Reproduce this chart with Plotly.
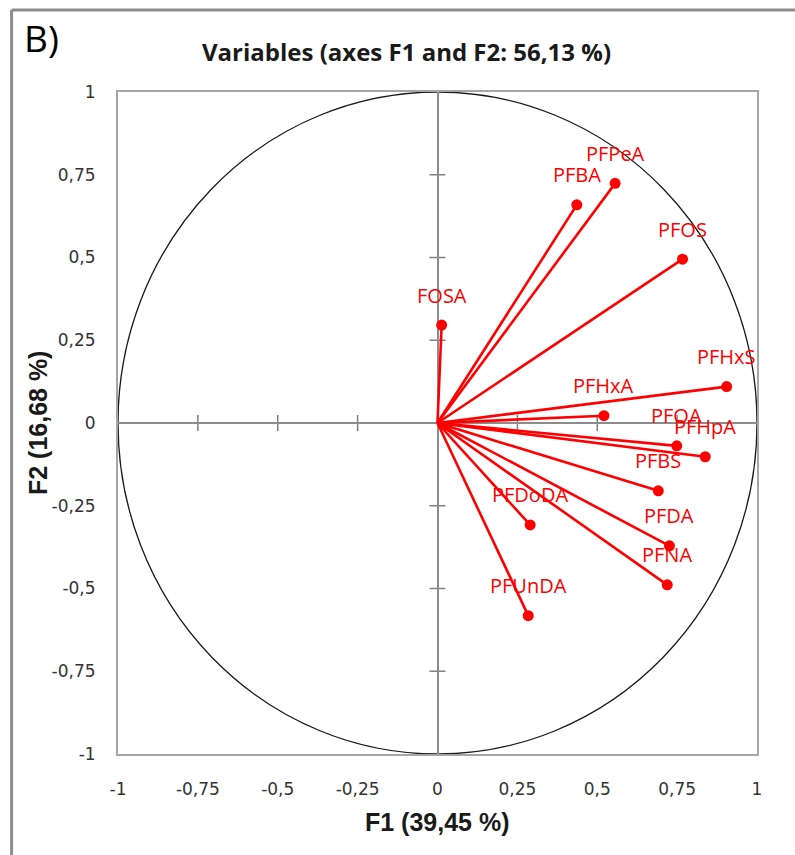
import plotly.graph_objects as go

# Correlation circle: loadings of each variable on F1 and F2
variables = ["PFBA", "PFPeA", "PFHxA", "PFHpA", "PFOA", "PFNA", "PFDA",
             "PFUnDA", "PFDoDA", "PFBS", "PFHxS", "PFOS", "FOSA"]
f1 = [0.436, 0.556, 0.521, 0.838, 0.749, 0.719, 0.726,
      0.284, 0.290, 0.691, 0.905, 0.767, 0.013]
f2 = [0.659, 0.724, 0.022, -0.102, -0.069, -0.489, -0.371,
      -0.582, -0.308, -0.205, 0.110, 0.495, 0.296]

tick_vals = [-1, -0.75, -0.5, -0.25, 0, 0.25, 0.5, 0.75, 1]
tick_text = ["-1", "-0,75", "-0,5", "-0,25", "0", "0,25", "0,5", "0,75", "1"]

title_text = "Variables (axes F1 and F2: 56,13 %)"
x_title = "F1 (39,45 %)"
y_title = "F2 (16,68 %)"
panel_tag = "B)"

W, H = 795, 855
L, R, T, B = 118, 37.5, 92, 101
pw, ph = W - L - R, H - T - B


def px_x(p):
    return (p - L) / pw


def px_y(p):
    return (H - B - p) / ph


RED = "#ff0000"

# vectors from origin
lx, ly = [], []
for a, b in zip(f1, f2):
    lx += [0, a, None]
    ly += [0, b, None]

fig = go.Figure()
fig.add_trace(go.Scatter(x=lx, y=ly, mode="lines",
                         line=dict(color=RED, width=2.6),
                         hoverinfo="skip", showlegend=False))
fig.add_trace(go.Scatter(x=f1, y=f2, mode="markers",
                         marker=dict(color=RED, size=11),
                         text=variables, showlegend=False))

# variable labels above each point
for name, a, b in zip(variables, f1, f2):
    fig.add_annotation(x=a, y=b, text=name, showarrow=False,
                       xanchor="center", yanchor="middle", yshift=30,
                       font=dict(family="Open Sans", size=20, color=RED))

# unit circle
fig.add_shape(type="circle", xref="x", yref="y", x0=-1, y0=-1, x1=1, y1=1,
              line=dict(color="#1a1a1a", width=1.3), layer="below")

# small cross ticks on the zero lines
for v in tick_vals:
    if v in (-1, 0, 1):
        continue
    fig.add_shape(type="line", xref="x", yref="y", x0=v, x1=v,
                  ysizemode="pixel", yanchor=0, y0=-8, y1=8,
                  line=dict(color="#808080", width=1.5), layer="below")
    fig.add_shape(type="line", xref="x", yref="y", y0=v, y1=v,
                  xsizemode="pixel", xanchor=0, x0=-8, x1=8,
                  line=dict(color="#808080", width=1.5), layer="below")

# outer frame (top and left edges)
fig.add_shape(type="line", xref="paper", yref="paper",
              x0=px_x(11.5), x1=px_x(W + 5), y0=px_y(10), y1=px_y(10),
              line=dict(color="#8c8c8c", width=3))
fig.add_shape(type="line", xref="paper", yref="paper",
              x0=px_x(11.5), x1=px_x(11.5), y0=px_y(10), y1=px_y(H + 5),
              line=dict(color="#8c8c8c", width=3))

fig.add_annotation(xref="paper", yref="paper", x=px_x(22), y=px_y(38),
                   text=panel_tag, showarrow=False, xanchor="left",
                   yanchor="middle",
                   font=dict(family="Open Sans", size=37, color="black"))
fig.add_annotation(xref="paper", yref="paper", x=px_x(407), y=px_y(51),
                   text="<b>" + title_text + "</b>", showarrow=False,
                   xanchor="center", yanchor="middle",
                   font=dict(family="Open Sans", size=24, color="#1a1a1a"))
fig.add_annotation(xref="paper", yref="paper", x=0.5, y=px_y(822),
                   text="<b>" + x_title + "</b>", showarrow=False,
                   xanchor="center", yanchor="middle",
                   font=dict(family="Liberation Sans", size=25, color="#1a1a1a"))
fig.add_annotation(xref="paper", yref="paper", x=px_x(38), y=0.5,
                   text="<b>" + y_title + "</b>", showarrow=False,
                   textangle=-90, xanchor="center", yanchor="middle",
                   font=dict(family="Liberation Sans", size=25, color="#1a1a1a"))

axis_common = dict(range=[-1, 1], tickvals=tick_vals, ticktext=tick_text,
                   showgrid=False, zeroline=True, zerolinecolor="#8c8c8c",
                   zerolinewidth=1.5, showline=True, mirror=True,
                   linecolor="#a6a6a6", linewidth=2, ticks="",
                   tickfont=dict(family="DejaVu Sans", size=17, color="#333333"),
                   fixedrange=True)

fig.update_layout(
    width=W, height=H,
    margin=dict(l=L, r=R, t=T, b=B),
    paper_bgcolor="white", plot_bgcolor="white",
    xaxis=dict(**axis_common, ticklabelstandoff=19),
    yaxis=dict(**axis_common, ticklabelstandoff=17),
    showlegend=False,
)

fig.write_html("out.html")
